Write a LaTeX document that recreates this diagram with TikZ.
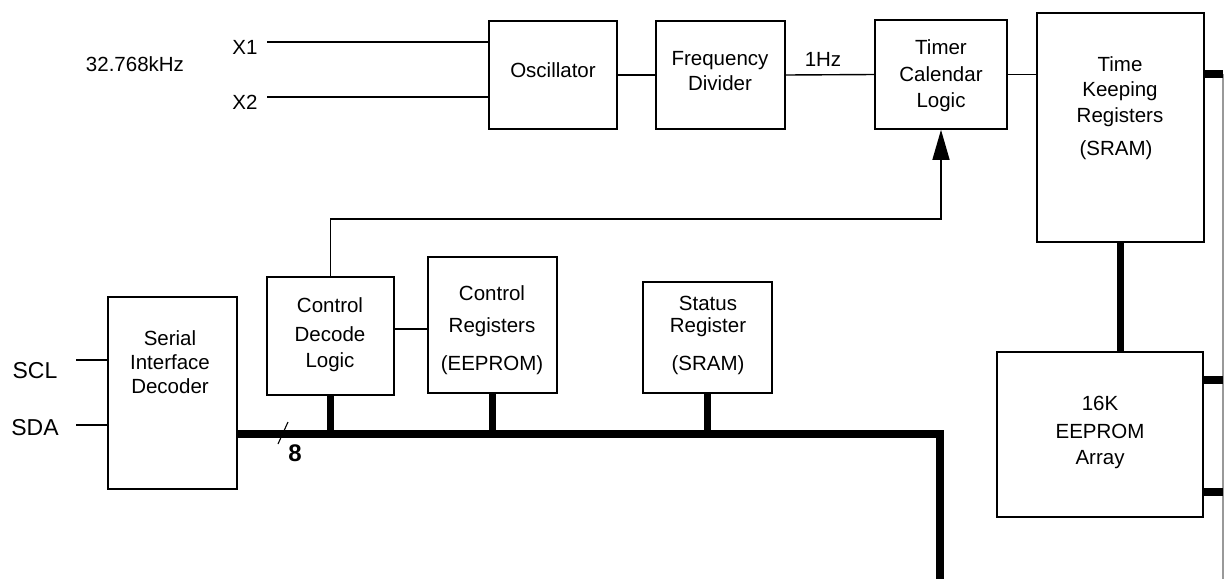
\documentclass[tikz,border=0pt]{standalone}
\usepackage{fontspec}
\setmainfont{Liberation Sans}
\usetikzlibrary{arrows.meta}
\begin{document}
\begin{tikzpicture}[x=1pt,y=-1pt,
  box/.style={draw,line width=1.6pt,inner sep=0pt},
  wire/.style={line width=1.4pt},
  bus/.style={line width=7.5pt,line join=miter,line cap=butt},
  rail/.style={line width=1.3pt,draw=black!40},
  lbl/.style={inner sep=0pt,font=\fontsize{20.5}{24}\selectfont,text height=14.7pt,text depth=0pt},
  pin/.style={inner sep=0pt,font=\fontsize{23}{26}\selectfont,text height=16.5pt,text depth=0pt},
  arr/.style={wire,-{Triangle[length=30pt,width=17pt]}}]
\useasboundingbox (0,0) rectangle (1225,579);
% boxes
\node[box,minimum width=128pt,minimum height=108pt] (osc) at (553,75) {};
\node[box,minimum width=129pt,minimum height=108pt] (fdiv) at (720.5,75) {};
\node[box,minimum width=132pt,minimum height=109pt] (timer) at (941,74.5) {};
\node[box,minimum width=167pt,minimum height=229pt] (tkr) at (1120.5,127.5) {};
\node[box,minimum width=206pt,minimum height=165pt] (eep) at (1100,434.5) {};
\node[box,minimum width=129pt,minimum height=192pt] (serial) at (172.5,393) {};
\node[box,minimum width=127pt,minimum height=118pt] (decode) at (330.5,336) {};
\node[box,minimum width=129pt,minimum height=136pt] (creg) at (492.5,325) {};
\node[box,minimum width=129pt,minimum height=111pt] (status) at (707.5,337.5) {};
% texts
\node[lbl] (khz) at (135,64) {32.768kHz};
\node[lbl] (x1) at (245,47) {X1};
\node[lbl] (x2) at (245,102) {X2};
\node[lbl] (toscA) at (553,70) {Oscillator};
\node[lbl] (tfdA) at (720,58) {Frequency};
\node[lbl] (tfdB) at (720,83) {Divider};
\node[lbl] (hz) at (823,59) {1Hz};
\node[lbl] (ttA) at (941,47) {Timer};
\node[lbl] (ttB) at (941,74) {Calendar};
\node[lbl] (ttC) at (941,100) {Logic};
\node[lbl] (tkA) at (1120,64) {Time};
\node[lbl] (tkB) at (1120,89) {Keeping};
\node[lbl] (tkC) at (1120,115) {Registers};
\node[lbl] (tkD) at (1116,148) {(SRAM)};
\node[lbl] (teA) at (1100,403) {16K};
\node[lbl] (teB) at (1100,431) {EEPROM};
\node[lbl] (teC) at (1100,457) {Array};
\node[lbl] (tsA) at (170,338) {Serial};
\node[lbl] (tsB) at (170,362) {Interface};
\node[lbl] (tsC) at (170,386) {Decoder};
\node[pin] (scl) at (35,370) {SCL};
\node[pin] (sda) at (35,427) {SDA};
\node[lbl] (tdA) at (330,305) {Control};
\node[lbl] (tdB) at (330,334) {Decode};
\node[lbl] (tdC) at (330,360) {Logic};
\node[lbl] (tcA) at (492,293) {Control};
\node[lbl] (tcB) at (492,325) {Registers};
\node[lbl] (tcC) at (492,363) {(EEPROM)};
\node[lbl] (tstA) at (708,303) {Status};
\node[lbl] (tstB) at (708,325) {Register};
\node[lbl] (tstC) at (708,363) {(SRAM)};
\node[inner sep=0pt,font=\fontsize{24}{28}\selectfont\bfseries,text height=17pt,text depth=0pt] (eight) at (295,453) {8};
% coordinates
\coordinate (x1end) at (267,42);
\coordinate (x2end) at (267,97);
\coordinate (sclend) at (76,360);
\coordinate (sdaend) at (76,425);
\coordinate (busy) at (0,434);
\coordinate (buscorner) at (940,434);
\coordinate (busend) at (940,579);
\coordinate (rtop) at (1223,74);
\coordinate (rmid) at (1223,380);
\coordinate (rlow) at (1223,492);
\coordinate (rend) at (1223,579);
\coordinate (ctrly) at (0,219);
\coordinate (linky) at (0,329);
\coordinate (slashA) at (278,444);
\coordinate (slashB) at (288,422);
% wires
\draw[wire] (x1end) -- (x1end -| osc.west);
\draw[wire] (x2end) -- (x2end -| osc.west);
\draw[wire] (osc.east) -- (fdiv.west);
\draw[wire] (fdiv.east) -- (timer.west);
\draw[wire] (timer.east) -- (timer.east -| tkr.west);
\draw[wire] (sclend) -- (sclend -| serial.west);
\draw[wire] (sdaend) -- (sdaend -| serial.west);
\draw[wire] (decode.east |- linky) -- (creg.west |- linky);
\draw[arr] (decode.north) -- (decode.north |- ctrly) -| (timer.south);
% bus
\draw[bus] (serial.east |- busy) -- (buscorner) -- (busend);
\draw[bus] (decode.south) -- (decode.south |- busy);
\draw[bus] (creg.south) -- (creg.south |- busy);
\draw[bus] (status.south) -- (status.south |- busy);
\draw[wire,line width=1.1pt] (slashA) -- (slashB);
% right side
\draw[bus] (tkr.south) -- (tkr.south |- eep.north);
\draw[rail] (rtop) -- (rend);
\draw[bus] (rtop -| tkr.east) -- (rtop);
\draw[bus] (rmid -| eep.east) -- (rmid);
\draw[bus] (rlow -| eep.east) -- (rlow);
\end{tikzpicture}
\end{document}
